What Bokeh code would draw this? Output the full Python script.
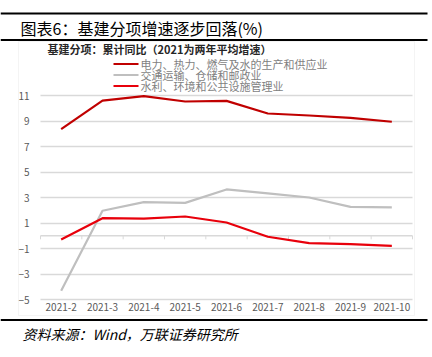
from bokeh.plotting import figure
from bokeh.models import (Range1d, FixedTicker, Label, BoxAnnotation)
from bokeh.embed import file_html
from bokeh.resources import INLINE

# ---- data ----
categories = ["2021-2", "2021-3", "2021-4", "2021-5", "2021-6",
              "2021-7", "2021-8", "2021-9", "2021-10"]
power = [8.37, 10.60, 10.95, 10.53, 10.58, 9.59, 9.43, 9.25, 8.94]
transport = [-4.32, 1.96, 2.64, 2.58, 3.63, 3.32, 3.00, 2.27, 2.22]
water = [-0.29, 1.38, 1.35, 1.51, 1.04, -0.08, -0.58, -0.66, -0.79]
series_names = ["电力、热力、燃气及水的生产和供应业",
                "交通运输、仓储和邮政业",
                "水利、环境和公共设施管理业"]
y_ticks = [-5, -3, -1, 1, 3, 5, 7, 9, 11]
title_text = "图表6：基建分项增速逐步回落(%)"
legend_title = "基建分项：累计同比（2021为两年平均增速）"
source_text = "资料来源：Wind，万联证券研究所"

FONT = "Noto Sans CJK SC"
idx = list(range(len(categories)))
n = len(categories)

# frame covers the whole canvas; plot area spans x 40..412 px, y(11)=95 px, y(-5)=299 px
W, H = 432, 357
PX_X = (412 - 40) / n
PX_Y = (299 - 95) / 16.0
x0 = -0.5 - 40 / PX_X
x1 = n - 0.5 + (W - 412) / PX_X
y_top = 11 + 95 / PX_Y
y_bot = -5 - (H - 299) / PX_Y

p = figure(width=W, height=H, output_backend="svg", toolbar_location=None,
           x_range=Range1d(x0, x1), y_range=Range1d(y_bot, y_top),
           min_border=0, min_border_left=0, min_border_right=0,
           min_border_top=0, min_border_bottom=0)
p.outline_line_color = None
p.background_fill_color = "white"
p.border_fill_color = "white"

# axes drawn at fixed locations inside the frame
p.xaxis.fixed_location = -5
p.yaxis.fixed_location = -0.5
p.xaxis.ticker = FixedTicker(ticks=idx)
p.xaxis.major_label_overrides = {i: c for i, c in zip(idx, categories)}
p.yaxis.ticker = FixedTicker(ticks=y_ticks)
p.yaxis.major_label_overrides = {t: (str(t).replace("-", "−")) for t in y_ticks}
for ax in (p.xaxis[0], p.yaxis[0]):
    ax.axis_line_color = None
    ax.major_tick_line_color = None
    ax.minor_tick_line_color = None
    ax.major_tick_out = 0
    ax.major_tick_in = 0
    ax.minor_tick_out = 0
    ax.minor_tick_in = 0
    ax.major_label_text_font = FONT
    ax.major_label_text_font_size = "10px"
    ax.major_label_text_color = "#595959"
p.xaxis.major_label_standoff = 3
p.yaxis.major_label_standoff = 11

p.xgrid.grid_line_color = None
grid_ok = False
try:
    p.ygrid.cross_bounds = (-0.5, n - 0.5)
    grid_ok = True
except Exception:
    grid_ok = False
if grid_ok:
    p.ygrid.grid_line_color = "#D9D9D9"
    p.ygrid.grid_line_width = 1.3
else:
    p.ygrid.grid_line_color = None
    p.segment(x0=[-0.5] * len(y_ticks), x1=[n - 0.5] * len(y_ticks), y0=y_ticks, y1=y_ticks,
              line_color="#D9D9D9", line_width=1.3)

# zero (category) axis line with boundary ticks
p.segment(x0=[-0.5], x1=[n - 0.5], y0=[0], y1=[0], line_color="#D9D9D9", line_width=1.3)
bounds = [i - 0.5 for i in idx] + [idx[-1] + 0.5]
p.segment(x0=bounds, x1=bounds, y0=[0] * len(bounds), y1=[-0.28] * len(bounds),
          line_color="#D9D9D9", line_width=1)

# series
colors = ["#C00000", "#BFBFBF", "#E8000B"]
for vals, col in zip([power, transport, water], colors):
    p.line(idx, vals, line_color=col, line_width=2.2)

U = dict(left_units="canvas", right_units="canvas", top_units="canvas", bottom_units="canvas")

# chart box
p.add_layout(BoxAnnotation(left=18, right=414, top=41, bottom=315, **U,
                           fill_color=None, line_color="#D9D9D9", line_width=1))
# heavy rules
for top, bot in [(12, 14), (38.5, 40.5), (318.5, 320.5)]:
    p.add_layout(BoxAnnotation(left=0, right=427, top=top, bottom=bot, **U,
                               fill_color="black", fill_alpha=1, line_color=None))

# legend (manual, compact like the original)
for k, (name, col) in enumerate(zip(series_names, colors)):
    cy = 63.5 + 11 * k
    p.add_layout(BoxAnnotation(left=113, right=138, top=cy - 1, bottom=cy + 1, **U,
                               fill_color=col, fill_alpha=1, line_color=None))
    p.add_layout(Label(x=140, y=cy, x_units="canvas", y_units="canvas", text=name,
                       text_font=FONT, text_font_size="11px", text_color="#7F7F7F",
                       text_baseline="middle"))

p.add_layout(Label(x=20, y=27, x_units="canvas", y_units="canvas",
                   text=title_text, text_font=FONT, text_font_size="16px",
                   text_color="black", text_baseline="middle"))
p.add_layout(Label(x=47, y=48, x_units="canvas", y_units="canvas",
                   text=legend_title, text_font=FONT, text_font_size="11px",
                   text_font_style="bold", text_color="#262626", text_baseline="middle"))
p.add_layout(Label(x=22, y=333, x_units="canvas", y_units="canvas",
                   text=source_text, text_font=FONT, text_font_size="14px",
                   text_font_style="italic", text_color="black", text_baseline="middle"))

open("out.html", "w").write(file_html(p, INLINE))
